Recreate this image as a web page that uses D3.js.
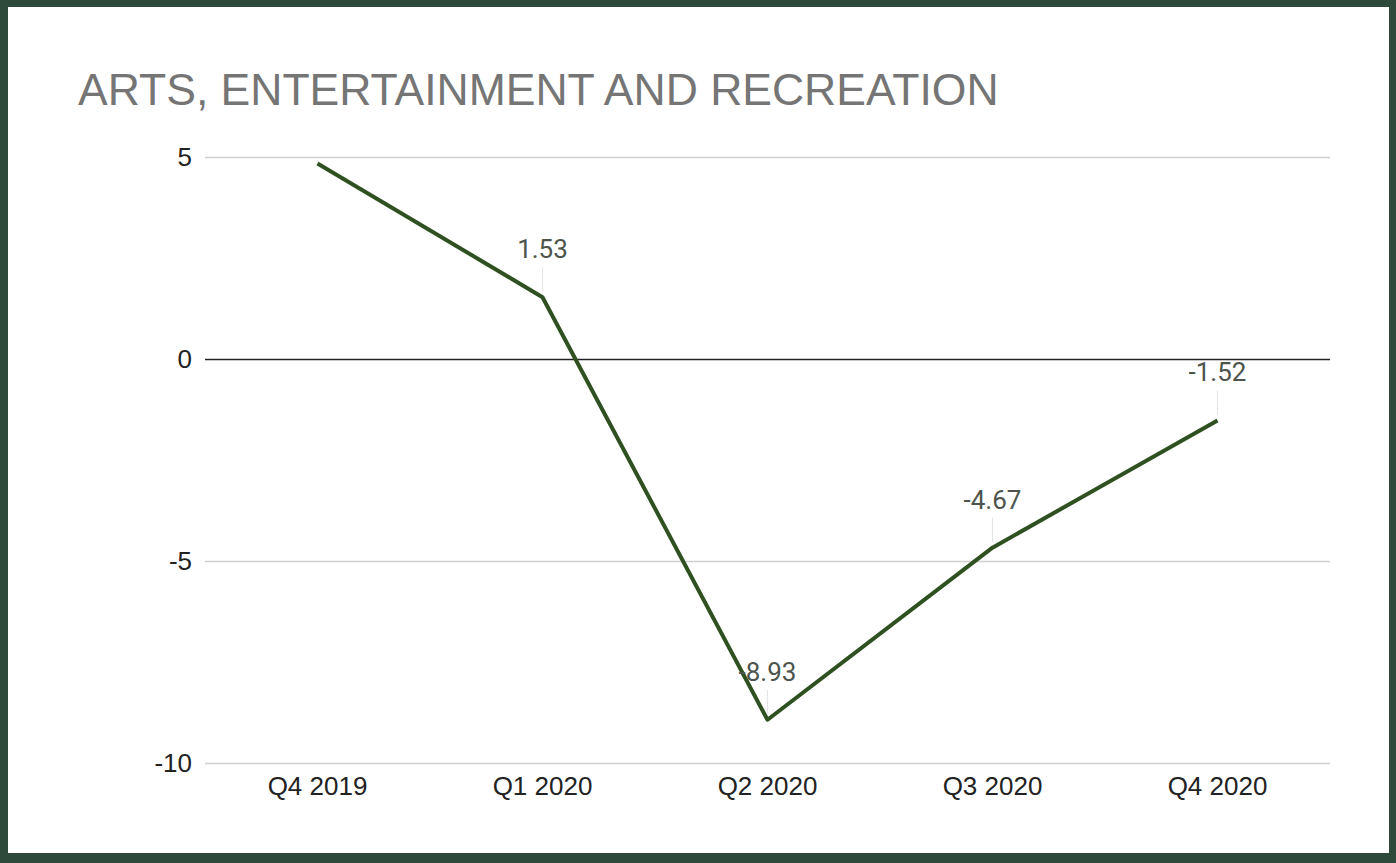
<!DOCTYPE html>
<html><head><meta charset="utf-8">
<script src="https://cdn.jsdelivr.net/npm/d3@7"></script>
<style>html,body{margin:0;padding:0;background:#fff;}</style>
</head><body>
<svg id="chart" width="1396" height="863"></svg>
<script>
const title = "ARTS, ENTERTAINMENT AND RECREATION";
const categories = ["Q4 2019", "Q1 2020", "Q2 2020", "Q3 2020", "Q4 2020"];
const values = [4.84, 1.53, -8.93, -4.67, -1.52];
const labelShown = [false, true, true, true, true];
const yTicks = [-10, -5, 0, 5];

const svg = d3.select("#chart");
const W = 1396, H = 863;

svg.append("rect").attr("x",0).attr("y",0).attr("width",W).attr("height",H).attr("fill","#2d4a3b");
svg.append("rect").attr("x",8).attr("y",7).attr("width",W-8-7).attr("height",H-7-10).attr("fill","#fff");

const x = d3.scaleBand().domain(categories).range([205, 1330]);
const y = d3.scaleLinear().domain([-10, 5]).range([763, 157]);
const hy = v => String(v).replace("\u2212","-");

svg.append("text").attr("x",78).attr("y",105).text(title)
  .attr("font-family","Liberation Sans, Arial, sans-serif").attr("font-size",44.5).attr("fill","#757575");

const yAxis = d3.axisLeft(y).tickValues(yTicks).tickSize(-(1330-205)).tickFormat(d => hy(d3.format("d")(d))).tickPadding(13);
const gy = svg.append("g").attr("transform","translate(205,0)").call(yAxis);
gy.select(".domain").remove();
gy.selectAll(".tick line").attr("stroke", d => d===0 ? "#222" : "#cfcfcf").attr("stroke-width", 1.6);
gy.selectAll(".tick text").attr("font-family","Liberation Sans, Arial, sans-serif").attr("font-size",26).attr("fill","#222");

const xAxis = d3.axisBottom(x).tickSize(0).tickPadding(14);
const gx = svg.append("g").attr("transform","translate(0,763)").call(xAxis);
gx.select(".domain").remove();
gx.selectAll(".tick text").attr("font-family","Liberation Sans, Arial, sans-serif").attr("font-size",26).attr("fill","#222");

const cx = d => x(d) + x.bandwidth()/2;

const pts = categories.map((c,i)=>({c, v: values[i], show: labelShown[i]}));
svg.append("g").selectAll("line").data(pts.filter(p=>p.show)).join("line")
  .attr("x1", d=>cx(d.c)).attr("x2", d=>cx(d.c))
  .attr("y1", d=>y(d.v)-30).attr("y2", d=>y(d.v)-6)
  .attr("stroke","#e4e4e4").attr("stroke-width",1.2);

const line = d3.line().x(d=>cx(d.c)).y(d=>y(d.v));
svg.append("path").datum(pts).attr("d", line).attr("fill","none")
  .attr("stroke","#2f5020").attr("stroke-width",4).attr("stroke-linejoin","round");

svg.append("g").selectAll("text").data(pts.filter(p=>p.show)).join("text")
  .attr("x", d=>cx(d.c)).attr("y", d=>y(d.v)-39).attr("text-anchor","middle")
  .attr("font-family","Roboto, sans-serif").attr("font-size",26).attr("fill","#4d544b")
  .text(d=>hy(d3.format(".2f")(d.v)));
</script>
</body></html>
